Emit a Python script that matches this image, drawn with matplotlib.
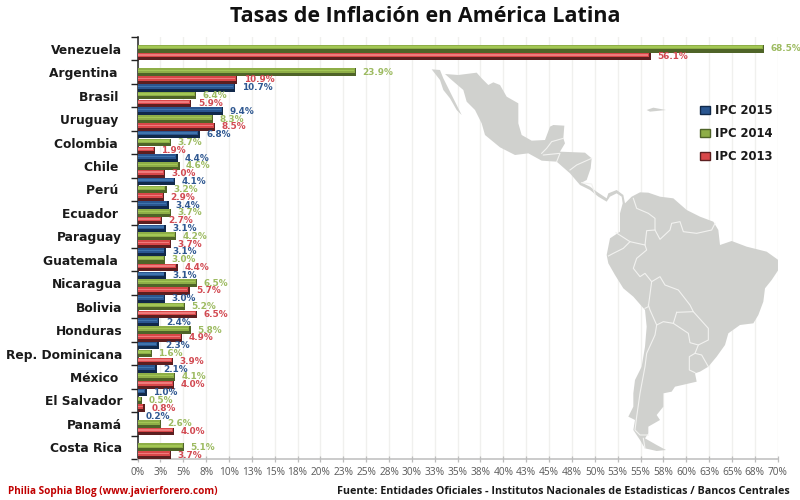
import numpy as np
import matplotlib
matplotlib.use("Agg")
import matplotlib.pyplot as plt
from matplotlib.patches import Polygon

countries = ["Venezuela", "Argentina ", "Brasil ", "Uruguay ", "Colombia ", "Chile ", "Perú ", "Ecuador ",
             "Paraguay", "Guatemala ", "Nicaragua", "Bolivia", "Honduras", "Rep. Dominicana", "México ",
             "El Salvador", "Panamá", "Costa Rica"]
ipc_2015 = [np.nan, np.nan, 10.7, 9.4, 6.8, 4.4, 4.1, 3.4, 3.1, 3.1, 3.1, 3.0, 2.4, 2.3, 2.1, 1.0, 0.2, np.nan]
ipc_2014 = [68.5, 23.9, 6.4, 8.3, 3.7, 4.6, 3.2, 3.7, 4.2, 3.0, 6.5, 5.2, 5.8, 1.6, 4.1, 0.5, 2.6, 5.1]
ipc_2013 = [56.1, 10.9, 5.9, 8.5, 1.9, 3.0, 2.9, 2.7, 3.7, 4.4, 5.7, 6.5, 4.9, 3.9, 4.0, 0.8, 4.0, 3.7]
xticks = [i * 2.5 for i in range(29)]
xlabels = ["0%", "3%", "5%", "8%", "10%", "13%", "15%", "18%", "20%", "23%", "25%", "28%", "30%", "33%", "35%",
           "38%", "40%", "43%", "45%", "48%", "50%", "53%", "55%", "58%", "60%", "63%", "65%", "68%", "70%"]

W, H = 800, 500
fig = plt.figure(figsize=(8, 5), dpi=100, facecolor="white")

# helper axes giving a pixel coordinate system for the decorative map
mapax = fig.add_axes([0, 0, 1, 1], zorder=0)
mapax.set_xlim(0, W); mapax.set_ylim(H, 0); mapax.axis("off")

# chart
L, R, T, B = 137.5, 777.7, 37, 459
ax = fig.add_axes([L / W, 1 - B / H, (R - L) / W, (B - T) / H], zorder=1)
ax.patch.set_alpha(0)
y = np.arange(len(countries))
ax.set_xlim(0, 70); ax.set_ylim(len(countries) - 0.5, -0.5)

# decorative map, traced in pixels on a zoomed view (x/3+400, y/3+40)
def P(pts):
    return [(400 + x / 3, 40 + y / 3) for x, y in pts]
GREY = "#d0d1ce"
mainland = [(135,102),(175,105),(230,98),(245,115),(265,135),(280,127),(300,135),(320,170),(355,190),(355,250),
    (365,285),(395,302),(435,300),(450,260),(460,255),(493,257),(490,295),(495,310),(480,335),
    (555,338),(575,355),(572,385),(560,420),(545,428),(570,440),(590,455),(620,475),(625,460),(650,450),(670,465),
    (675,490),(695,470),(720,457),(745,458),(780,470),(820,475),(860,510),(900,530),(940,545),(955,570),(960,615),
    (995,603),(1040,620),(1100,635),(1135,660),(1135,690),(1115,720),(1095,745),(1090,785),(1075,825),(1060,850),(1020,855),
    (985,880),(975,915),(950,950),(925,980),(900,995),(885,1000),(890,1025),(860,1032),(825,1040),(815,1055),
    (790,1060),(790,1100),(770,1125),(780,1140),(745,1160),(745,1180),(735,1195),(770,1215),(798,1230),(770,1233),
    (735,1225),(720,1200),(700,1170),(705,1140),(685,1130),(700,1100),(700,1060),(705,1020),(725,980),(735,920),
    (740,860),(735,810),(700,770),(670,745),(645,705),(625,670),(620,645),(630,595),(660,575),(660,520),(668,490),
    (665,470),(650,460),(630,470),(620,485),(595,470),(570,450),(540,435),(510,400),(470,365),(425,362),(385,340),
    (345,345),(300,322),(255,285),(245,250),(225,210),(200,185),(190,150),(155,120)]
baja = [(95,88),(120,90),(130,115),(145,145),(160,175),(185,225),(170,210),(150,175),(130,150),(120,120)]
cuba = [(740,210),(760,203),(798,210),(770,213),(750,215)]
for shape in (mainland, baja, cuba):
    ax.add_patch(Polygon(P(shape), closed=True, fc=GREY, ec="none", transform=mapax.transData, zorder=1))
borders = [
    [(700,475),(710,505),(745,520),(765,535),(765,570),(780,598),(810,570),(815,550),(840,545),(850,575),(890,580),(935,570),(945,550)],
    [(765,570),(740,572),(735,615),(690,605),(648,578)],
    [(690,605),(670,625),(640,640),(625,648)],
    [(735,615),(740,630),(710,655),(700,685),(720,710),(735,700),(755,725),(745,800),(735,805)],
    [(755,725),(780,710),(795,735),(835,750),(870,795),(880,815),(925,865),(925,900),(895,915),(870,908),(865,880),(820,850),(790,845),(770,855),(750,810),(745,795)],
    [(830,817),(880,815)], [(830,817),(820,850)],
    [(770,855),(765,885),(740,940),(735,980),(720,1060),(710,1130),(705,1170),(720,1185),(745,1185)],
    [(730,1195),(735,1225)],
    [(895,915),(885,940),(868,950),(868,990),(885,998)], [(885,940),(905,945),(925,980)],
    [(425,340),(440,325),(455,305),(490,295)],
    [(430,345),(480,340),(470,365)],
    [(510,390),(530,375),(575,355)],
    [(545,428),(575,432),(585,462)],
]
for b in borders:
    xs, ys = zip(*P(b))
    ax.plot(xs, ys, color="#f2f2f0", lw=0.8, solid_joinstyle="round", transform=mapax.transData, zorder=2)

series = [("IPC 2015", ipc_2015, -1/3, "#3f74ad", "#11294a", "#2a5690", "#2f5891"),
          ("IPC 2014", ipc_2014, 0, "#a3c755", "#4f6428", "#8eae47", "#9dbb61"),
          ("IPC 2013", ipc_2013, 1/3, "#ee7b7c", "#5c1f20", "#d94749", "#d24a52")]
h = 0.325
for label, vals, off, light, dark, mid, tc in series:
    cont = ax.barh(y + off, vals, height=h, color=dark, zorder=3)
    ax.barh(y + off - h * 0.2, np.array(vals) - 0.15, height=h * 0.60, color=mid, zorder=4)
    ax.barh(y + off - h * 0.2, np.array(vals) - 0.25, height=h * 0.20, color=light, zorder=5)
    ax.bar_label(cont, labels=["" if np.isnan(v) else f"{v:.1f}%" for v in vals], padding=4.6,
                 color=tc, fontsize=6.4, fontweight="bold", family="DejaVu Sans", zorder=6)
    ax.barh([0], [0], height=0, color=mid, edgecolor=dark, label=label)

ax.set_xlim(0, 70); ax.set_ylim(len(countries) - 0.5, -0.5)
ax.set_xticks(xticks, xlabels, fontsize=7.3, color="#595959", family="Open Sans")
ax.set_yticks(np.arange(len(countries) + 1) - 0.5, minor=False, labels=[""] * (len(countries) + 1))
ax.set_yticks(y, countries, minor=True, fontsize=8.8, fontweight="bold", color="#1a1a1a", family="DejaVu Sans")
ax.tick_params(axis="y", which="major", length=5, width=1, color="#222222")
ax.tick_params(axis="y", which="minor", length=0, pad=11)
ax.tick_params(axis="x", direction="inout", length=4, width=0.9, color="#bdbdbd", pad=3.5)
ax.grid(axis="x", color="#f0f0ee", lw=1)
ax.set_axisbelow(True)
for s in ("top", "right"):
    ax.spines[s].set_visible(False)
ax.spines["left"].set_color("#222222"); ax.spines["left"].set_linewidth(1.1)
ax.spines["bottom"].set_color("#bdbdbd"); ax.spines["bottom"].set_linewidth(1.1)

handles, labels = ax.get_legend_handles_labels()
leg = ax.legend(handles, labels, loc="upper left", bbox_to_anchor=((699.5 - L) / (R - L), 1 - (104 - T) / (B - T)),
                frameon=False, prop={"family": "DejaVu Sans", "weight": "bold", "size": 8.4},
                handlelength=0.9, handleheight=0.7, handletextpad=0.4, labelspacing=0.86, borderpad=0, borderaxespad=0,
                labelcolor="#1a1a1a")

fig.text(425 / W, 1 - 17 / H, "Tasas de Inflación en América Latina", ha="center", va="center",
         fontsize=15.5, fontweight="bold", color="#111111", family="Open Sans")
fig.text(8 / W, 1 - 491.5 / H, "Philia Sophia Blog (www.javierforero.com)", ha="left", va="center",
         fontsize=7.2, fontweight="bold", color="#c00000", family="Open Sans")
fig.text(790 / W, 1 - 491.5 / H, "Fuente: Entidades Oficiales - Institutos Nacionales de Estadisticas / Bancos Centrales",
         ha="right", va="center", fontsize=7.75, fontweight="bold", color="#1a1a1a", family="Open Sans")

fig.savefig("out.png", dpi=100, facecolor="white")
